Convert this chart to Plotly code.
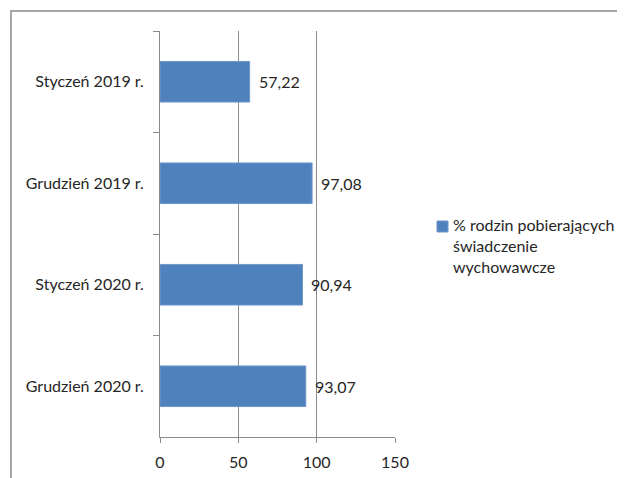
import plotly.graph_objects as go

categories = ["Styczeń 2019 r.", "Grudzień 2019 r.", "Styczeń 2020 r.", "Grudzień 2020 r."]
values = [57.22, 97.08, 90.94, 93.07]
series_name = "% rodzin pobierających<br>świadczenie<br>wychowawcze"
x_ticks = [0, 50, 100, 150]

# page body has an 8px default margin; compensate so the picture lines up
OFF = 8
W, H = 625 - OFF, 478 - OFF
L, T = 160 - OFF, 31 - OFF
R, B = W - (395 - OFF), H - (437 - OFF)
pw, ph = W - L - R, H - T - B

axis_col = "#8c8c8c"
bar_col = "#4F81BD"
font = dict(family="Lato, 'Open Sans', sans-serif", size=16, color="#262626")
legend_font = dict(family="Lato, 'Open Sans', sans-serif", size=16, color="#262626")


def px_to_paper_x(px):  # px = screen pixel
    return (px - OFF - L) / pw


def px_to_paper_y(py):
    return 1 - (py - OFF - T) / ph


fig = go.Figure()
fig.add_trace(go.Bar(
    y=categories, x=values, orientation="h",
    name=series_name,
    marker=dict(color=bar_col, line=dict(color="#7096c8", width=1)),
    showlegend=False,
))

annotations = []
for c, v in zip(categories, values):
    annotations.append(dict(
        x=v, y=c, xref="x", yref="y",
        text=f"{v:.2f}".replace(".", ","),
        showarrow=False, xanchor="left", xshift=7,
        font=font,
    ))

# legend (custom, to match tight symbol/text spacing)
annotations.append(dict(
    x=px_to_paper_x(451), y=px_to_paper_y(213), xref="paper", yref="paper",
    text=series_name, showarrow=False, xanchor="left", yanchor="top",
    align="left", font=legend_font,
))

shapes = [
    # outer chart border
    dict(
        type="rect", xref="paper", yref="paper",
        x0=px_to_paper_x(11), x1=px_to_paper_x(660),
        y0=px_to_paper_y(520), y1=px_to_paper_y(11),
        line=dict(color="#a6a6a6", width=2), fillcolor="rgba(0,0,0,0)",
        layer="below",
    ),
    # legend symbol
    dict(
        type="rect", xref="paper", yref="paper",
        x0=px_to_paper_x(437), x1=px_to_paper_x(448),
        y0=px_to_paper_y(232), y1=px_to_paper_y(221),
        line=dict(color="#7096c8", width=1), fillcolor=bar_col,
    ),
]

fig.update_layout(
    width=W, height=H,
    margin=dict(l=L, r=R, t=T, b=B, pad=0),
    paper_bgcolor="white", plot_bgcolor="white",
    font=font,
    separators=", ",
    bargap=0.6,
    annotations=annotations,
    shapes=shapes,
    showlegend=False,
    xaxis=dict(
        range=[0, 150], tickvals=x_ticks, ticktext=[str(t) for t in x_ticks],
        showgrid=True, gridcolor=axis_col, gridwidth=1,
        showline=True, linecolor=axis_col, linewidth=1,
        ticks="outside", ticklen=5, tickcolor=axis_col,
        zeroline=False, tickfont=font, fixedrange=True,
        automargin=False, ticklabelstandoff=6,
    ),
    yaxis=dict(
        autorange="reversed",
        showline=True, linecolor=axis_col, linewidth=1,
        ticks="outside", ticklen=6, tickcolor=axis_col, tickson="boundaries",
        showgrid=False, tickfont=font, ticklabelstandoff=12,
        automargin=False,
    ),
)

fig.write_html("out.html")
